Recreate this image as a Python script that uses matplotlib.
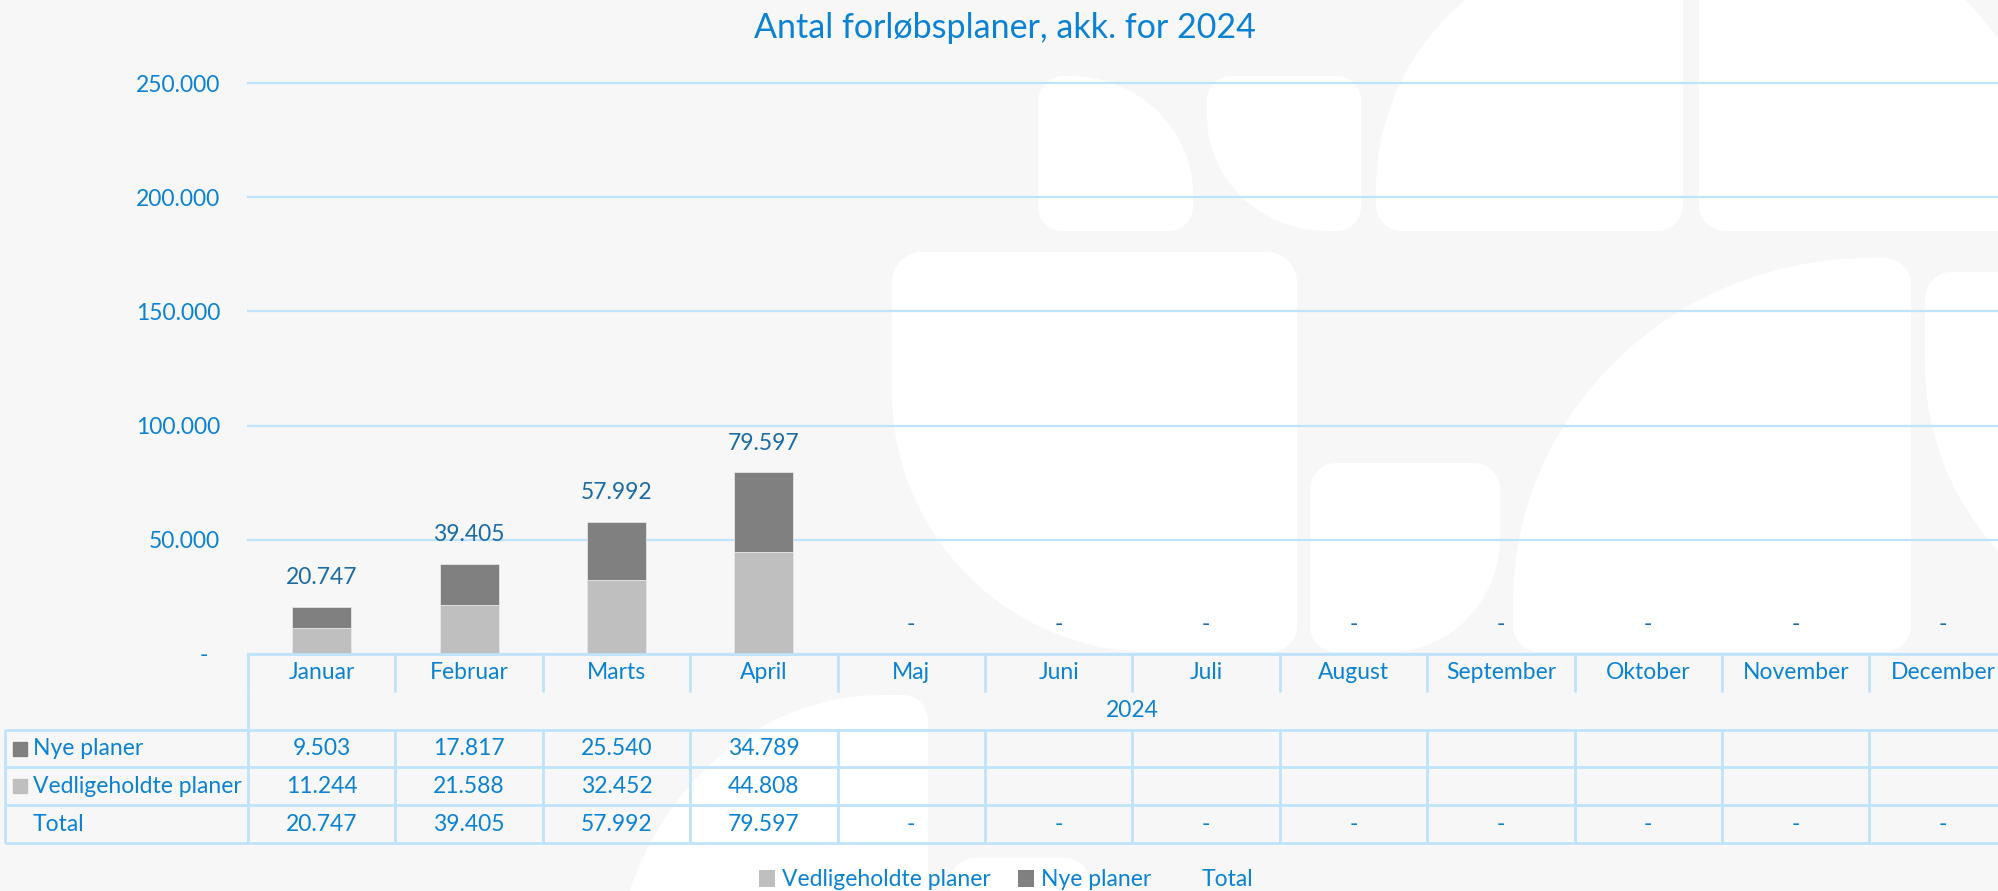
import matplotlib
matplotlib.use("Agg")
import matplotlib.pyplot as plt
from matplotlib.path import Path
from matplotlib.patches import PathPatch, Patch
from matplotlib.lines import Line2D
import numpy as np

# ---------------- data ----------------
title = "Antal forløbsplaner, akk. for 2024"
months = ["Januar", "Februar", "Marts", "April", "Maj", "Juni", "Juli",
          "August", "September", "Oktober", "November", "December"]
year_label = "2024"
nye = [9503, 17817, 25540, 34789, None, None, None, None, None, None, None, None]
vedl = [11244, 21588, 32452, 44808, None, None, None, None, None, None, None, None]
total = [20747, 39405, 57992, 79597, 0, 0, 0, 0, 0, 0, 0, 0]
yticks = [0, 50000, 100000, 150000, 200000, 250000]
series_names = ["Nye planer", "Vedligeholdte planer", "Total"]

# ---------------- style ----------------
W, H, DPI = 1998, 891, 100
BG = "#f7f7f7"
BLUE = "#0c82d4"
DBLUE = "#1b6ba8"
GRID = "#bfe3fa"
DARK = "#808080"
LIGHT = "#bfbfbf"
FONT = "Lato"
FS = 16.5

plt.rcParams["font.family"] = [FONT, "DejaVu Sans"]

fig = plt.figure(figsize=(W / DPI, H / DPI), dpi=DPI, facecolor=BG)


def fmt(v):
    if v is None:
        return ""
    if v == 0:
        return "-"
    return f"{v:,.0f}".replace(",", ".")


# ---------------- decorative background shapes ----------------
K = 0.5523


def rounded(x0, y0, x1, y1, tl, tr, br, bl):
    def r(c):
        return (c, c) if np.isscalar(c) else c
    tl, tr, br, bl = r(tl), r(tr), r(br), r(bl)
    verts, codes = [], []

    def mv(p):
        verts.append(p); codes.append(Path.MOVETO)

    def ln(p):
        verts.append(p); codes.append(Path.LINETO)

    def cv(p0, c, p3):
        p1 = (p0[0] + K * (c[0] - p0[0]), p0[1] + K * (c[1] - p0[1]))
        p2 = (p3[0] + K * (c[0] - p3[0]), p3[1] + K * (c[1] - p3[1]))
        verts.extend([p1, p2, p3]); codes.extend([Path.CURVE4] * 3)

    p = (x0 + tl[0], y0); mv(p)
    q = (x1 - tr[0], y0); ln(q)
    p3 = (x1, y0 + tr[1]); cv(q, (x1, y0), p3)
    q = (x1, y1 - br[1]); ln(q)
    p3 = (x1 - br[0], y1); cv(q, (x1, y1), p3)
    q = (x0 + bl[0], y1); ln(q)
    p3 = (x0, y1 - bl[1]); cv(q, (x0, y1), p3)
    q = (x0, y0 + tl[1]); ln(q)
    cv(q, (x0, y0), p)
    verts.append(p); codes.append(Path.CLOSEPOLY)
    v = np.array(verts, float)
    v[:, 0] = v[:, 0] / W
    v[:, 1] = 1 - v[:, 1] / H
    return Path(v, codes)


shapes = [
    (1038, 76, 1193, 231, 26, (123, 118), 24, 24),
    (1207, 76, 1361, 231, 24, 24, 24, (120, 115)),
    (1376, -57, 1683, 231, (247, 247), 26, 26, 26),
    (1699, -107, 2047, 231, 0, (347, 300), 26, 26),
    (892, 252, 1297, 652, 30, 30, 26, (260, 260)),
    (1310, 463, 1500, 652, 26, 26, (110, 115), 26),
    (1513, 258, 1911, 652, (357, 345), 26, 26, 26),
    (1925, 272, 2300, 633, 26, 0, 0, (260, 270)),
    (613, 695, 928, 1100, (270, 300), 25, 0, 0),
    (950, 858, 1090, 960, 25, 25, 0, 0),
]
for s in shapes:
    fig.add_artist(PathPatch(rounded(*s), facecolor="white", edgecolor="none",
                             transform=fig.transFigure, zorder=-10))

# ---------------- layout ----------------
X0 = 248            # px, left of plot/table columns
CW = 147.4          # px per category
Y_AX0 = 654         # px, zero line
Y_TOP = 83          # px, 250.000 line
Y_TB = 843          # px, table bottom
ax_left = X0 / W
ax_w = CW * len(months) / W

ax = fig.add_axes([ax_left, 1 - Y_AX0 / H, ax_w, (Y_AX0 - Y_TOP) / H])
ax.set_facecolor("none")
ax.set_xlim(-0.5, len(months) - 0.5)
ax.set_ylim(0, yticks[-1])
for sp in ax.spines.values():
    sp.set_visible(False)
ax.set_xticks([])
ax.set_yticks(yticks)
ax.set_yticklabels([fmt(v) + ("  " if v == 0 else "") for v in yticks])
ax.tick_params(axis="y", length=0, pad=20, labelsize=FS, labelcolor=BLUE)
ax.yaxis.grid(True, color=GRID, lw=1.6)
ax.set_axisbelow(True)
for gl in ax.get_ygridlines():
    gl.set_clip_on(False)

x = np.arange(len(months))
n_data = sum(v is not None for v in nye)
xd = x[:n_data]
v_arr = np.array(vedl[:n_data], float)
n_arr = np.array(nye[:n_data], float)
ax.bar(xd, v_arr, width=0.4, color=LIGHT, edgecolor="#e6e6e6", lw=0.6, zorder=3)
ax.bar(xd, n_arr, bottom=v_arr, width=0.4, color=DARK, edgecolor="#e6e6e6", lw=0.6, zorder=3)
for i, t in enumerate(total):
    ax.annotate(fmt(t), xy=(x[i], t), xytext=(0, 21), textcoords="offset points",
                ha="center", va="center", fontsize=FS, color=DBLUE, zorder=5)

fig.text(1005 / W, 1 - 28 / H, title, ha="center", va="center", fontsize=24.5, color=BLUE)

# ---------------- data table ----------------
tax = fig.add_axes([ax_left, 1 - Y_TB / H, ax_w, (Y_TB - Y_AX0) / H])
tax.set_facecolor("none")
tax.set_xlim(-0.5, len(months) - 0.5)
tax.set_ylim(0, 5)
tax.axis("off")
LBL_W = (X0 - 5) / CW
xl = -0.5 - LBL_W
xr = len(months) - 0.5
LW_T = 2.0
kw = dict(color=GRID, lw=LW_T, clip_on=False, solid_capstyle="butt")
# horizontal lines
tax.plot([-0.5, xr + 0.5], [5, 5], **kw)
for yy in [3, 2, 1, 0]:
    tax.plot([xl, xr + 0.5], [yy, yy], **kw)
# vertical lines
for k in range(len(months) + 1):
    xx = -0.5 + k
    tax.plot([xx, xx], [0, 3], **kw)
    tax.plot([xx, xx], [4, 5], **kw)
tax.plot([-0.5, -0.5], [3, 4], **kw)
tax.plot([xl, xl], [0, 3], **kw)

for i, m in enumerate(months):
    tax.text(x[i], 4.5, m, ha="center", va="center", fontsize=FS, color=BLUE)
tax.text((len(months) - 1) / 2, 3.5, year_label, ha="center", va="center", fontsize=FS, color=BLUE)

rows = [(series_names[0], nye, DARK, 2.5),
        (series_names[1], vedl, LIGHT, 1.5),
        (series_names[2], total, None, 0.5)]
for name, vals, col, yc in rows:
    if col is not None:
        tax.plot([xl + 0.1], [yc], marker="s", ms=10, color=col, clip_on=False, lw=0)
    tax.text(xl + 0.19, yc, name, ha="left", va="center", fontsize=FS, color=BLUE)
    for i, v in enumerate(vals):
        tax.text(x[i], yc, fmt(v), ha="center", va="center", fontsize=FS, color=BLUE)

# ---------------- legend ----------------
handles = [Patch(facecolor=LIGHT, edgecolor="none", label=series_names[1]),
           Patch(facecolor=DARK, edgecolor="none", label=series_names[0]),
           Line2D([], [], lw=0, label=series_names[2])]
fig.legend(handles=handles, loc="center", bbox_to_anchor=(1006 / W, 1 - 880 / H),
           ncol=3, frameon=False, fontsize=FS, labelcolor=BLUE,
           handlelength=0.7, handleheight=0.7, handletextpad=0.3, columnspacing=1.2)

fig.savefig("out.png", dpi=DPI, facecolor=BG)
